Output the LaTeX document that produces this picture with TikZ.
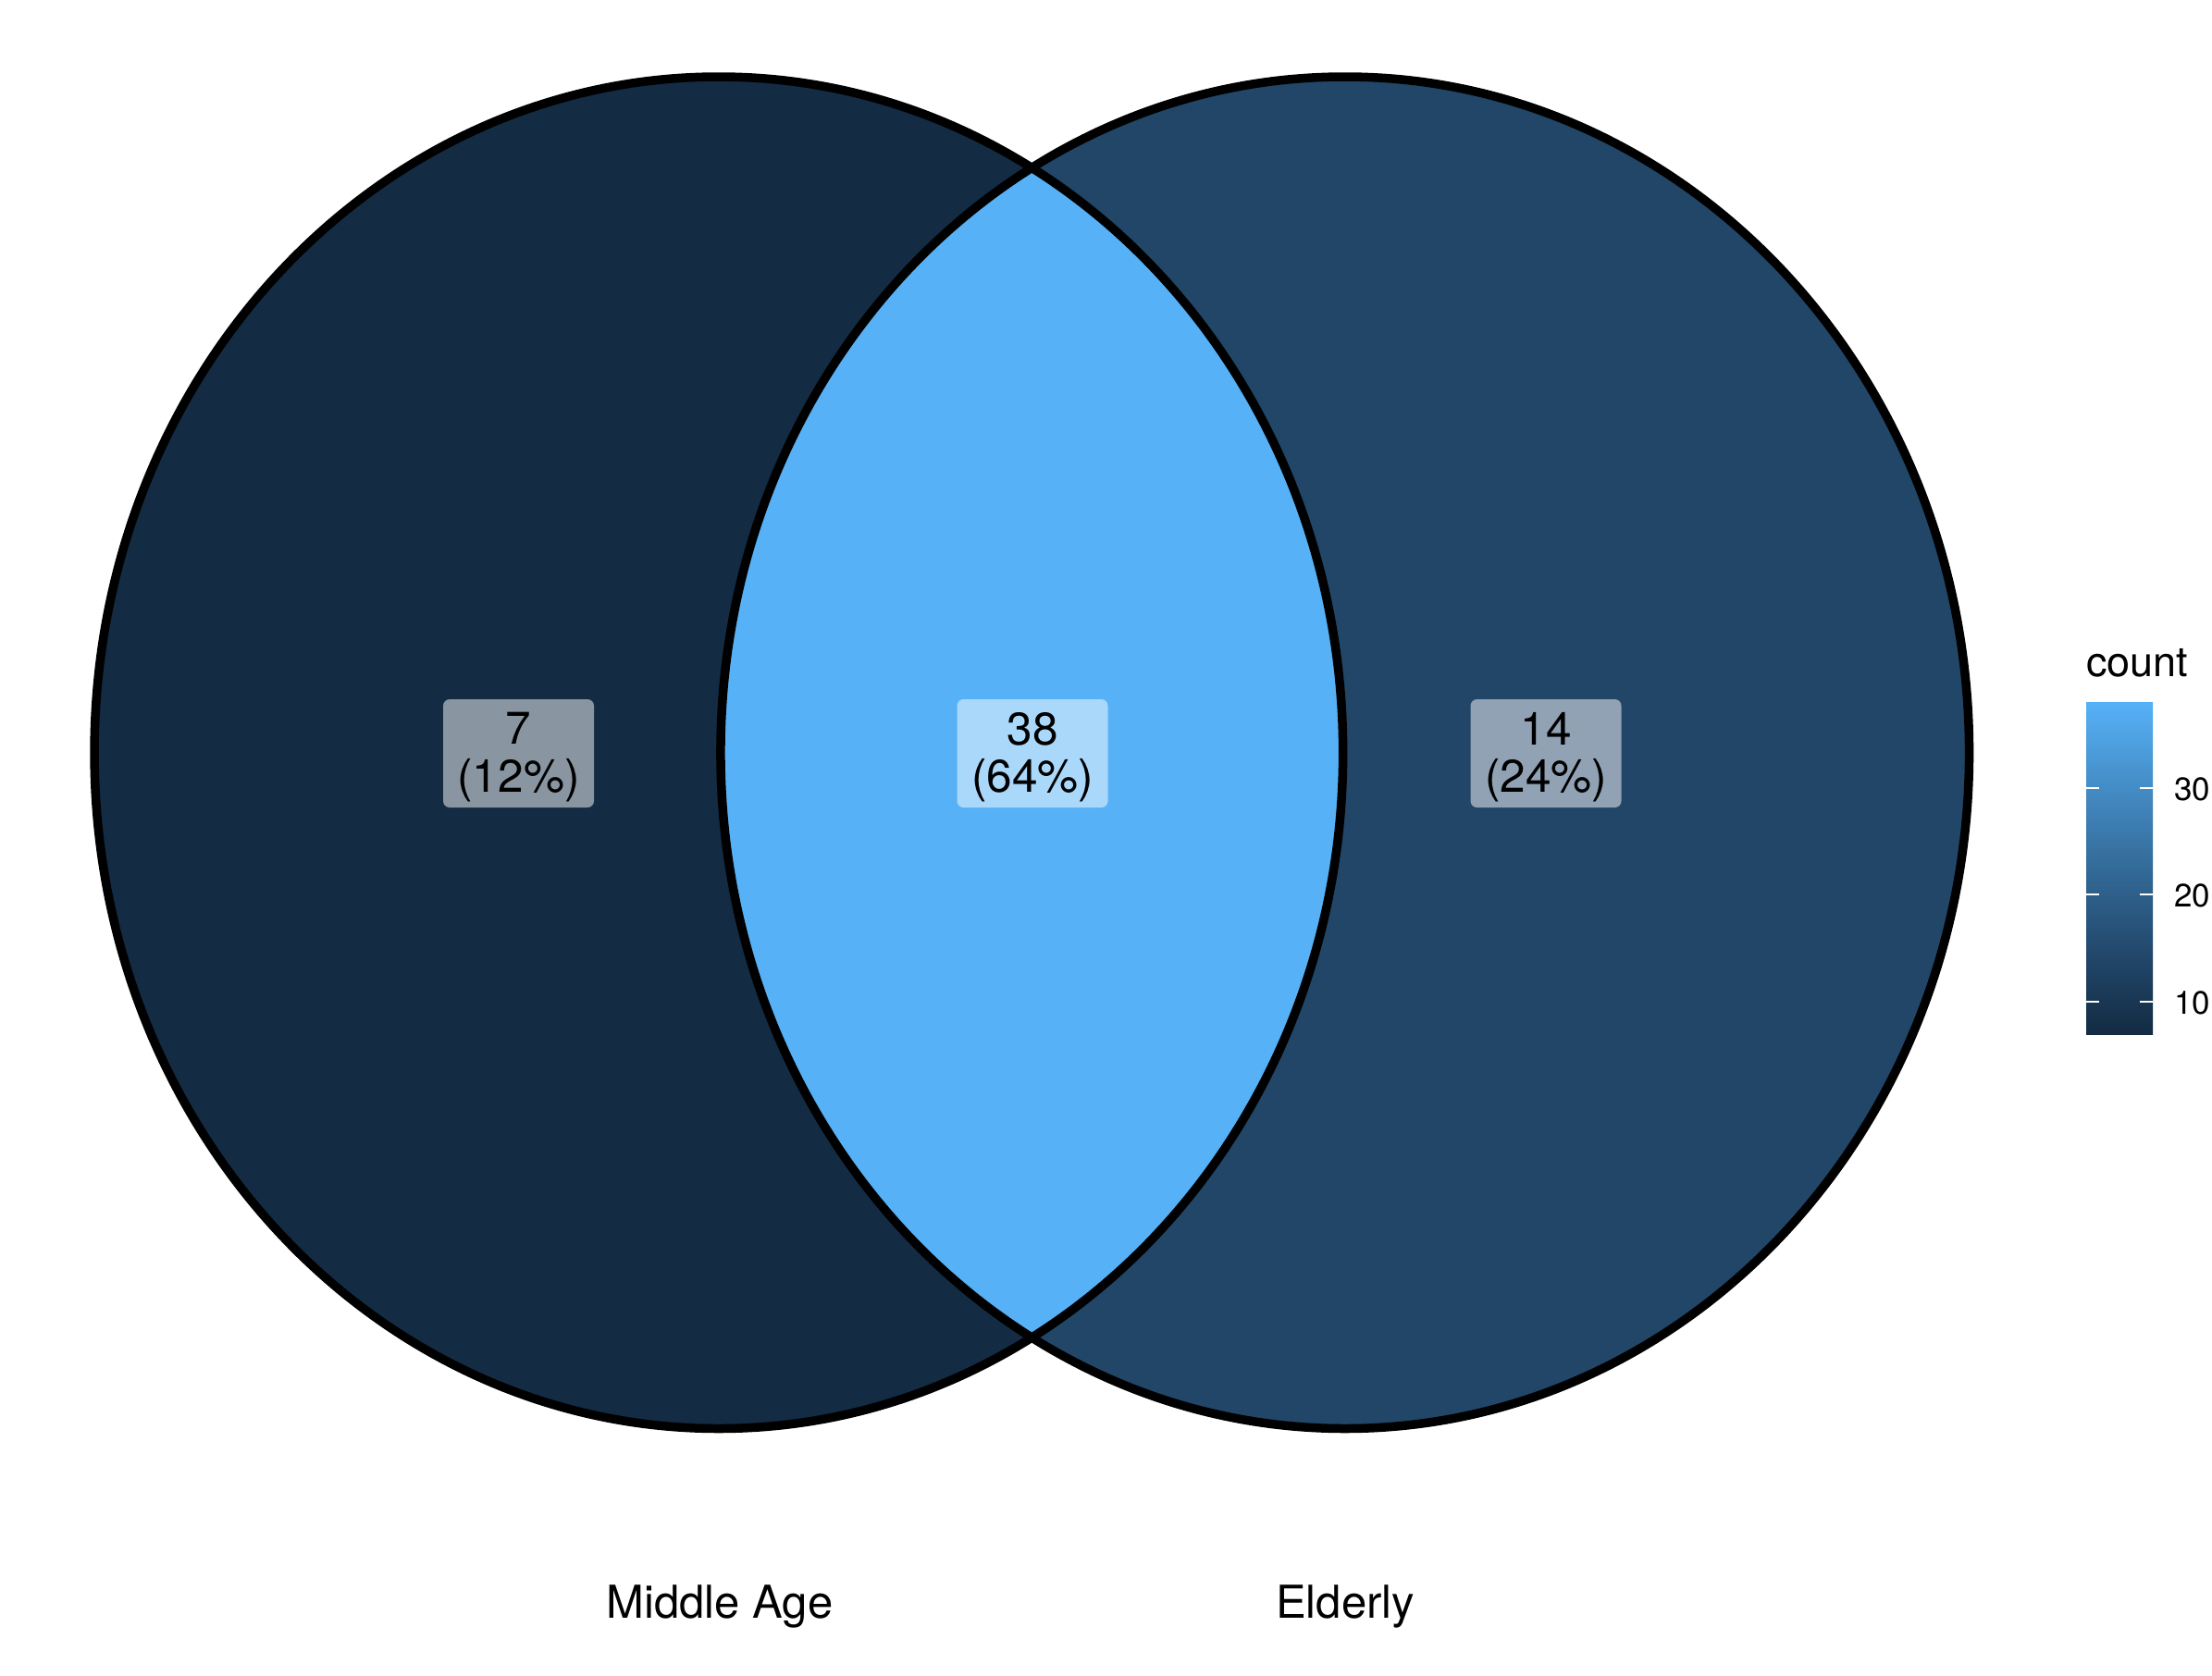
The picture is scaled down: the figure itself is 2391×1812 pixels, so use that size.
\documentclass[tikz,border=0pt]{standalone}
\usepackage{fontspec}
\setmainfont{TeX Gyre Heros}
\definecolor{lowfill}{HTML}{132B43}
\definecolor{elderfill}{HTML}{214668}
\definecolor{highfill}{HTML}{56B1F7}
\definecolor{grad22}{HTML}{336A98}
\definecolor{grad30}{HTML}{448CC5}
% colour bar: 7 (bottom) to 38 (top), stops mapped into the 25bp..75bp band
\pgfdeclareverticalshading{countbar}{100bp}{%
  color(0bp)=(lowfill); color(25bp)=(lowfill); color(36.29bp)=(elderfill);
  color(50bp)=(grad22); color(62.10bp)=(grad30); color(75bp)=(highfill);
  color(100bp)=(highfill)}
% two-line count label, set a little below the box centre
\newcommand{\countlabel}[2]{\raisebox{-6pt}[\height][\depth]{\begin{tabular}{@{}c@{}}#1\\(#2\%)\end{tabular}}}
\begin{document}
\begin{tikzpicture}[x=1pt,y=-1pt,
  setline/.style={draw=black,line width=9.5pt},
  countbox/.style={rectangle,rounded corners=7pt,fill=white,fill opacity=0.5,
    text opacity=1,minimum width=163pt,minimum height=117pt,inner sep=0pt,
    font=\fontsize{49.5}{50}\selectfont},
  setname/.style={anchor=base,inner sep=0pt,font=\fontsize{49}{55}\selectfont},
  tickmark/.style={draw=white,line width=1.8pt},
  ticklabel/.style={anchor=base west,inner sep=0pt,font=\fontsize{35}{40}\selectfont},
  legtitle/.style={anchor=base west,inner sep=0pt,font=\fontsize{45}{50}\selectfont}]

\useasboundingbox (0,0) rectangle (2391,1812);
\fill[white] (0,0) rectangle (2391,1812);

% set ellipses
\coordinate (cA) at (776.85,813.75);
\coordinate (cB) at (1453.75,813.75);
\def\rx{674.8pt}
\def\ry{730.75pt}
\fill[lowfill] (cA) ellipse [x radius=\rx, y radius=\ry];
\fill[elderfill] (cB) ellipse [x radius=\rx, y radius=\ry];
\begin{scope}
  \clip (cA) ellipse [x radius=\rx, y radius=\ry];
  \fill[highfill] (cB) ellipse [x radius=\rx, y radius=\ry];
\end{scope}
\draw[setline] (cA) ellipse [x radius=\rx, y radius=\ry];
\draw[setline] (cB) ellipse [x radius=\rx, y radius=\ry];

% region counts
\node[countbox] (onlyA) at (560.5,814.5) {\countlabel{7}{12}};
\node[countbox] (both)  at (1116,814.5) {\countlabel{38}{64}};
\node[countbox] (onlyB) at (1671,814.5) {\countlabel{14}{24}};

% set names
\node[setname] (nameA) at (778,1749) {Middle Age};
\node[setname] (nameB) at (1454,1749) {Elderly};

% legend
\node[legtitle] (legtitle) at (2255,731.7) {count};
\shade[shading=countbar] (2255,759) rectangle (2327,1118);
\foreach \v/\y in {30/851.7,20/967.3,10/1083.3}{
  \draw[tickmark] (2255,\y) -- (2269.4,\y);
  \draw[tickmark] (2312.6,\y) -- (2327,\y);
  \node[ticklabel] (tick\v) at (2350,\y+13.3) {\v};
}
\end{tikzpicture}
\end{document}
